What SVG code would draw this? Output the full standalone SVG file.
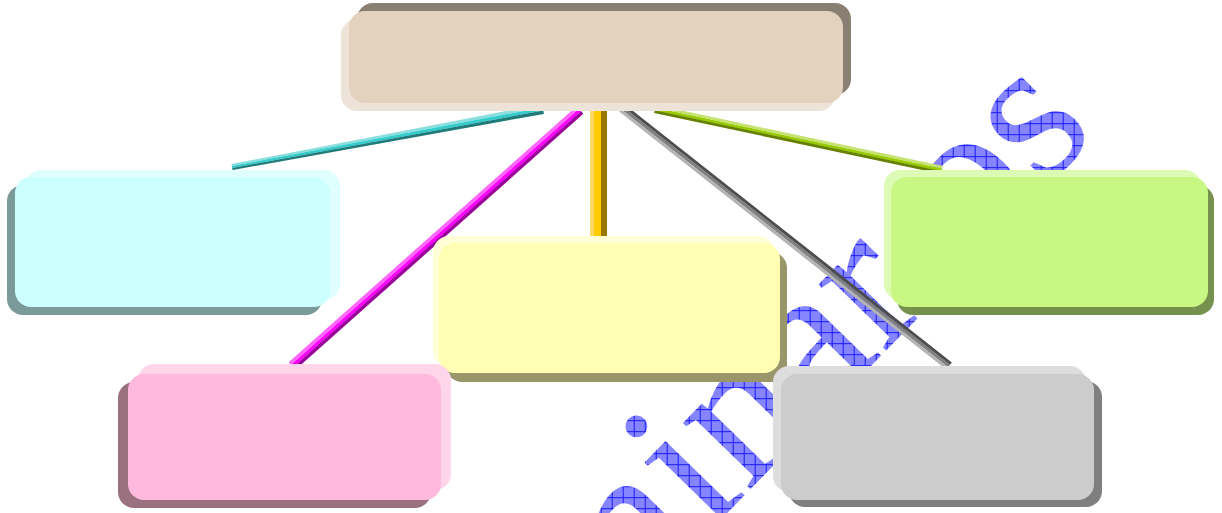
<svg xmlns="http://www.w3.org/2000/svg" width="1222" height="513" viewBox="0 0 1222 513">
<defs>
<pattern id="hatch" patternUnits="userSpaceOnUse" width="11" height="11" patternTransform="rotate(45.7)">
<rect width="11" height="11" fill="#8585FF"/>
<path d="M0 0.5H11M0.5 0V11" stroke="#1A1AFF" stroke-width="1"/>
</pattern>
<style>
.wm{font-family:"Liberation Serif","Times New Roman",serif;font-size:206px;fill:url(#hatch)}
line{stroke-linecap:butt}
</style>
</defs>
<rect width="1222" height="513" fill="#FFFFFF"/>
<text class="wm" x="451.6" y="795.7" transform="rotate(-45.7 451.6 795.7)">Seminar<tspan dx="30" dy="40">i</tspan><tspan dx="-30" dy="-40">os</tspan></text>
<g id="connectors">
<g id="c-teal">
<polygon points="542.1,104.1 542.7,107.4 231.8,166.0 231.5,164.1" fill="#8ADEDE"/>
<polygon points="542.7,107.4 543.3,110.6 232.2,168.0 231.8,166.0" fill="#33CCCC"/>
<polygon points="543.3,110.6 543.9,113.9 232.6,170.0 232.2,168.0" fill="#1F7A7A"/>
</g>
<g id="c-magenta">
<line x1="580" y1="110" x2="292" y2="366" stroke="#FF00FF" stroke-width="3.6"/>
<line x1="577.8" y1="107.5" x2="289.8" y2="363.5" stroke="#FF66FF" stroke-width="3.4"/>
<line x1="582.2" y1="112.5" x2="294.2" y2="368.5" stroke="#990099" stroke-width="3.4"/>
</g>
<g id="c-yellow">
<line x1="592" y1="105" x2="592" y2="240" stroke="#FFD966" stroke-width="4"/>
<line x1="597.5" y1="105" x2="597.5" y2="240" stroke="#FFCC00" stroke-width="7"/>
<line x1="604" y1="105" x2="604" y2="240" stroke="#997700" stroke-width="6"/>
</g>
<g id="c-gray">
<line x1="622" y1="108" x2="949" y2="366" stroke="#808080" stroke-width="3.2"/>
<line x1="620.1" y1="110.4" x2="947.1" y2="368.4" stroke="#B3B3B3" stroke-width="3"/>
<line x1="623.9" y1="105.6" x2="950.9" y2="363.6" stroke="#4D4D4D" stroke-width="3"/>
</g>
<g id="c-green">
<line x1="655" y1="109" x2="942" y2="170" stroke="#99CC00" stroke-width="3"/>
<line x1="655.6" y1="106.4" x2="942.6" y2="167.4" stroke="#C6E372" stroke-width="2.8"/>
<line x1="654.4" y1="111.6" x2="941.4" y2="172.6" stroke="#668000" stroke-width="2.8"/>
</g>
</g>
<g id="node-top">
<rect x="357" y="3" width="494" height="92" rx="16" fill="#8A7F73"/>
<rect x="341" y="19" width="494" height="92" rx="16" fill="#EEE3D9"/>
<rect x="349" y="11" width="494" height="92" rx="16" fill="#E3D2BE"/>
</g>
<g id="node-cyan">
<rect x="7" y="185" width="315" height="130" rx="16" fill="#7A9999"/>
<rect x="25" y="170" width="315" height="130" rx="16" fill="#DFFFFF"/>
<rect x="15" y="177" width="315" height="130" rx="16" fill="#CCFFFF"/>
</g>
<g id="node-yellow">
<rect x="446" y="252" width="341" height="130" rx="16" fill="#99966A"/>
<rect x="433" y="236" width="341" height="130" rx="16" fill="#FFFFD6"/>
<rect x="439" y="243" width="341" height="130" rx="16" fill="#FFFEB2"/>
</g>
<g id="node-green">
<rect x="897" y="185" width="317" height="130" rx="16" fill="#76914D"/>
<rect x="884" y="170" width="317" height="130" rx="16" fill="#DDFBB5"/>
<rect x="891" y="177" width="317" height="130" rx="16" fill="#C8F784"/>
</g>
<g id="node-pink">
<rect x="118" y="382" width="313" height="126" rx="16" fill="#99717F"/>
<rect x="138" y="364" width="313" height="126" rx="16" fill="#FFD5E9"/>
<rect x="128" y="374" width="313" height="126" rx="16" fill="#FFB9DD"/>
</g>
<g id="node-gray">
<rect x="789" y="381" width="313" height="126" rx="16" fill="#7F7F7F"/>
<rect x="773" y="366" width="313" height="126" rx="16" fill="#DDDDDD"/>
<rect x="781" y="374" width="313" height="126" rx="16" fill="#CCCCCC"/>
</g>
</svg>
